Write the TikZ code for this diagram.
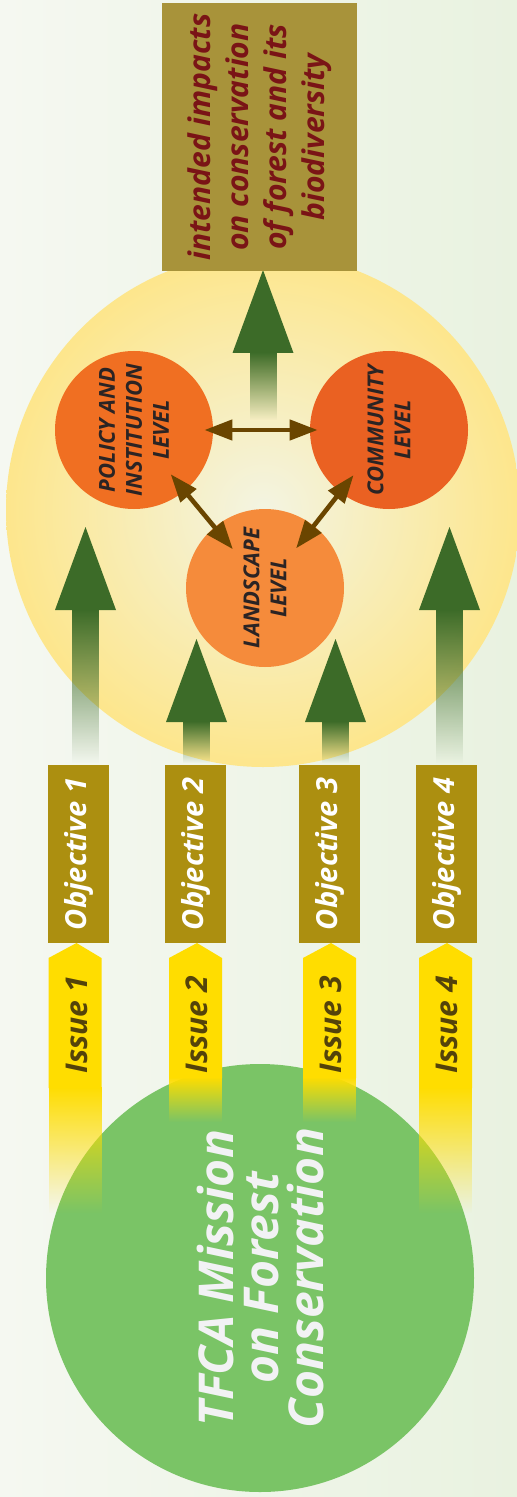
\documentclass[tikz,border=0pt]{standalone}
\usepackage{fontspec}
\setmainfont{Open Sans}
\usepackage{tikz}
\usetikzlibrary{arrows.meta,positioning,fadings}

\definecolor{bgleft}{HTML}{F5F8F1}
\definecolor{bgright}{HTML}{E9F2E0}
\definecolor{impactgold}{HTML}{A8933A}
\definecolor{impactred}{HTML}{7A1416}
\definecolor{ringyellow}{HTML}{FDE68C}
\definecolor{ringcore}{HTML}{F3F4E2}
\definecolor{policyorange}{HTML}{F06F22}
\definecolor{communityorange}{HTML}{EA6122}
\definecolor{landscapeorange}{HTML}{F58B3B}
\definecolor{leveltext}{HTML}{2B2424}
\definecolor{linkbrown}{HTML}{6A4500}
\definecolor{arrowgreen}{HTML}{3C6B28}
\definecolor{objgold}{HTML}{AC8F10}
\definecolor{issueyellow}{HTML}{FFDD00}
\definecolor{issuetext}{HTML}{54430A}
\definecolor{missiongreen}{HTML}{7AC466}
\definecolor{missiontext}{HTML}{F2F2F4}

\tikzfading[name=shaftfade, top color=transparent!0, bottom color=transparent!100]

\newcommand{\greenarrow}[3]{%
\fill[arrowgreen, path fading=shaftfade] (#1-13.5,#3-1) rectangle (#1+13.5,#2);
\fill[arrowgreen] (#1-30.5,#3) -- (#1,#3-83) -- (#1+30.5,#3) -- cycle;}

\tikzset{
  level/.style={circle, minimum size=79pt, inner sep=0pt, rotate=90, align=center,
    text=leveltext, font=\fontsize{11}{13.5}\selectfont\bfseries\itshape},
  objective/.style={rectangle, fill=objgold, minimum width=89pt, minimum height=30.5pt,
    inner sep=0pt, rotate=90, text=white, font=\fontsize{14.5}{16}\selectfont\bfseries\itshape},
  issuelabel/.style={rotate=90, inner sep=0pt, text=issuetext,
    font=\fontsize{15}{17}\selectfont\bfseries\itshape},
  link/.style={draw=linkbrown, line width=2.3pt,
    arrows={Triangle[length=14pt,width=10pt]-Triangle[length=14pt,width=10pt]}},
}

\begin{document}
\begin{tikzpicture}[x=0.5pt, y=-0.5pt]
\useasboundingbox (0,0) rectangle (517,1497);
\shade[left color=bgleft, right color=bgright] (0,0) rectangle (517,1497);

% levels of intervention
\shade[inner color=ringcore, outer color=ringyellow] (263,510) circle[radius=257];
\greenarrow{263}{420}{353}

\node[level, fill=policyorange] (policy) at (134,430) {POLICY AND\\INSTITUTION\\LEVEL};
\node[level, fill=communityorange] (community) at (389,430) {COMMUNITY\\LEVEL};
\node[level, fill=landscapeorange] (landscape) at (265,588) {LANDSCAPE\\LEVEL};

\draw[link, shorten <=-4.5pt, shorten >=-4pt] (policy) -- (community);
\draw[link, shorten <=-11pt, shorten >=-14.5pt] (policy) -- (landscape);
\draw[link, shorten <=-11pt, shorten >=-14.5pt] (community) -- (landscape);

\foreach \x/\base in {85.5/610, 196.5/722, 335.5/722, 449.5/610}
  \greenarrow{\x}{763}{\base};

\node[rectangle, fill=impactgold, minimum width=134pt, minimum height=97.5pt, rotate=90,
  align=center, text=impactred, font=\fontsize{15}{19}\selectfont\bfseries\itshape]
  (impact) at (259.5,137) {intended impacts\\on conservation\\of forest and its\\biodiversity};

% mission, issues and objectives
\node[circle, fill=missiongreen, minimum size=214pt, inner sep=0pt, rotate=90, align=center,
  text=missiontext, font=\fontsize{24}{22.5}\selectfont\bfseries\itshape]
  (mission) at (260,1278) {TFCA Mission\\on Forest\\Conservation};

\foreach \i/\x/\ix/\solid/\tail in {1/78.5/75/1088/1213, 2/195.5/195.5/1078/1122, 3/329.5/329.5/1078/1122, 4/446.5/445.5/1088/1213} {
  \fill[issueyellow] (\ix-26.5,\solid) -- (\ix-26.5,958) -- (\ix+1.5,943) -- (\ix+26.5,958) -- (\ix+26.5,\solid) -- cycle;
  \fill[issueyellow, path fading=shaftfade] (\ix-26.5,\solid-1) rectangle (\ix+26.5,\tail);
  \node[issuelabel] (issue\i) at (\ix+1.5,1025) {Issue \i};
  \node[objective] (objective\i) at (\x,854) {Objective \i};
}
\end{tikzpicture}
\end{document}
